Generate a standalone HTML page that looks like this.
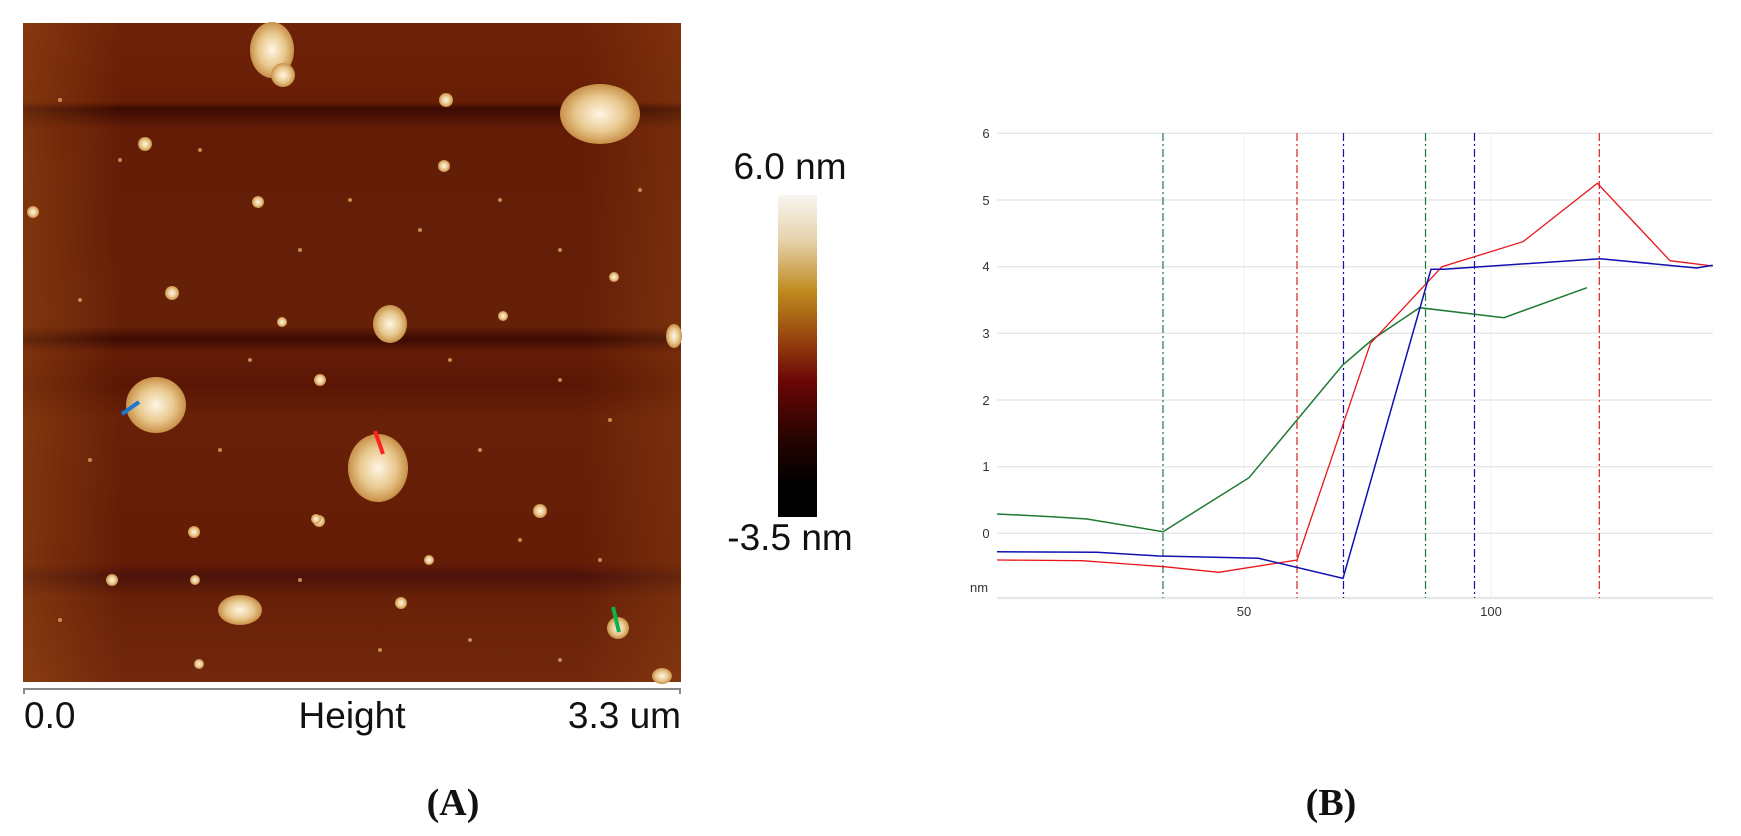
<!DOCTYPE html>
<html><head><meta charset="utf-8"><style>
html,body{margin:0;padding:0;background:#fff;}
svg{display:block;}
</style></head><body>
<svg width="1741" height="836" viewBox="0 0 1741 836" xmlns="http://www.w3.org/2000/svg" font-family="Liberation Sans, Arial, sans-serif">
<defs>
<linearGradient id="cb" x1="0" y1="0" x2="0" y2="1">
<stop offset="0" stop-color="#f8f6f0"/>
<stop offset="0.14" stop-color="#e6d2ac"/>
<stop offset="0.30" stop-color="#bf8a1e"/>
<stop offset="0.45" stop-color="#96420e"/>
<stop offset="0.58" stop-color="#6a0606"/>
<stop offset="0.76" stop-color="#250400"/>
<stop offset="0.9" stop-color="#000"/>
<stop offset="1" stop-color="#000"/>
</linearGradient>
<linearGradient id="bgv" x1="0" y1="0" x2="0" y2="1">
<stop offset="0" stop-color="#6e2208"/>
<stop offset="0.12" stop-color="#681e06"/>
<stop offset="0.13" stop-color="#3a0a02"/>
<stop offset="0.16" stop-color="#641c06"/>
<stop offset="0.46" stop-color="#662008"/>
<stop offset="0.48" stop-color="#3c0a02"/>
<stop offset="0.50" stop-color="#641c06"/>
<stop offset="0.55" stop-color="#5a1604"/>
<stop offset="0.60" stop-color="#682008"/>
<stop offset="0.82" stop-color="#641c06"/>
<stop offset="0.84" stop-color="#4c120a"/>
<stop offset="0.87" stop-color="#682008"/>
<stop offset="1" stop-color="#72280c"/>
</linearGradient>
<linearGradient id="lft" x1="0" y1="0" x2="1" y2="0">
<stop offset="0" stop-color="#b0601a" stop-opacity="0.35"/>
<stop offset="0.15" stop-color="#b0601a" stop-opacity="0"/>
<stop offset="0.85" stop-color="#b0601a" stop-opacity="0"/>
<stop offset="1" stop-color="#b0601a" stop-opacity="0.25"/>
</linearGradient>
<radialGradient id="blob"><stop offset="0" stop-color="#fff6e6"/><stop offset="0.6" stop-color="#e8c88e"/><stop offset="1" stop-color="#c89048"/></radialGradient>
</defs>

<!-- Panel A -->
<rect x="23" y="23" width="658" height="659" fill="url(#bgv)"/>
<rect x="23" y="23" width="658" height="659" fill="url(#lft)"/>
<g fill="url(#blob)">
<ellipse cx="272" cy="50" rx="22" ry="28"/>
<ellipse cx="283" cy="75" rx="12" ry="12"/>
<ellipse cx="600" cy="114" rx="40" ry="30"/>
<ellipse cx="390" cy="324" rx="17" ry="19"/>
<ellipse cx="156" cy="405" rx="30" ry="28"/>
<ellipse cx="378" cy="468" rx="30" ry="34"/>
<ellipse cx="240" cy="610" rx="22" ry="15"/>
<ellipse cx="618" cy="628" rx="11" ry="11"/>
<ellipse cx="674" cy="336" rx="8" ry="12"/>
<ellipse cx="662" cy="676" rx="10" ry="8"/>
<circle cx="145" cy="144" r="7"/>
<circle cx="258" cy="202" r="6"/>
<circle cx="172" cy="293" r="7"/>
<circle cx="33" cy="212" r="6"/>
<circle cx="446" cy="100" r="7"/>
<circle cx="444" cy="166" r="6"/>
<circle cx="282" cy="322" r="5"/>
<circle cx="320" cy="380" r="6"/>
<circle cx="319" cy="521" r="6"/>
<circle cx="194" cy="532" r="6"/>
<circle cx="540" cy="511" r="7"/>
<circle cx="429" cy="560" r="5"/>
<circle cx="195" cy="580" r="5"/>
<circle cx="112" cy="580" r="6"/>
<circle cx="401" cy="603" r="6"/>
<circle cx="316" cy="519" r="5"/>
<circle cx="614" cy="277" r="5"/>
<circle cx="199" cy="664" r="5"/>
<circle cx="503" cy="316" r="5"/>
</g>
<g fill="#d8a860" opacity="0.8">
<circle cx="60" cy="100" r="2"/><circle cx="120" cy="160" r="2"/><circle cx="200" cy="150" r="2"/><circle cx="300" cy="250" r="2"/><circle cx="350" cy="200" r="2"/><circle cx="420" cy="230" r="2"/><circle cx="500" cy="200" r="2"/><circle cx="560" cy="250" r="2"/><circle cx="640" cy="190" r="2"/><circle cx="80" cy="300" r="2"/><circle cx="250" cy="360" r="2"/><circle cx="450" cy="360" r="2"/><circle cx="560" cy="380" r="2"/><circle cx="610" cy="420" r="2"/><circle cx="90" cy="460" r="2"/><circle cx="220" cy="450" r="2"/><circle cx="480" cy="450" r="2"/><circle cx="520" cy="540" r="2"/><circle cx="600" cy="560" r="2"/><circle cx="300" cy="580" r="2"/><circle cx="60" cy="620" r="2"/><circle cx="380" cy="650" r="2"/><circle cx="470" cy="640" r="2"/><circle cx="560" cy="660" r="2"/>
</g>
<line x1="122" y1="414" x2="139" y2="402" stroke="#1a78d0" stroke-width="4"/>
<line x1="375" y1="431" x2="383" y2="454" stroke="#ff2020" stroke-width="4"/>
<line x1="613" y1="607" x2="619" y2="632" stroke="#10b050" stroke-width="4"/>

<path d="M24 694 V689 H680 V694" fill="none" stroke="#888" stroke-width="2"/>
<g font-size="37" fill="#111">
<text x="24" y="728">0.0</text>
<text x="352" y="728" text-anchor="middle">Height</text>
<text x="681" y="728" text-anchor="end">3.3 um</text>
<text x="790" y="179" text-anchor="middle">6.0 nm</text>
<text x="790" y="550" text-anchor="middle">-3.5 nm</text>
</g>
<rect x="778" y="195" width="39" height="322" fill="url(#cb)"/>

<text x="453" y="815" text-anchor="middle" font-family="Liberation Serif, serif" font-weight="bold" font-size="38" fill="#111">(A)</text>
<text x="1331" y="815" text-anchor="middle" font-family="Liberation Serif, serif" font-weight="bold" font-size="38" fill="#111">(B)</text>

<!-- Panel B -->
<g stroke="#e8e8e8" stroke-width="1.5">
<line x1="997" y1="133.3" x2="1713" y2="133.3"/>
<line x1="997" y1="200" x2="1713" y2="200"/>
<line x1="997" y1="266.7" x2="1713" y2="266.7"/>
<line x1="997" y1="333.3" x2="1713" y2="333.3"/>
<line x1="997" y1="400" x2="1713" y2="400"/>
<line x1="997" y1="466.7" x2="1713" y2="466.7"/>
<line x1="997" y1="533.3" x2="1713" y2="533.3"/>
<line x1="997" y1="598" x2="1713" y2="598" stroke-width="2.5"/>
</g>
<g stroke="#efefef" stroke-width="1">
<line x1="1244" y1="133" x2="1244" y2="598"/>
<line x1="1491" y1="133" x2="1491" y2="598"/>
</g>
<g stroke-width="1.2" stroke-dasharray="8,3,2,3" fill="none">
<line x1="1163" y1="133" x2="1163" y2="598" stroke="#1e7a32"/>
<line x1="1297" y1="133" x2="1297" y2="598" stroke="#e02020"/>
<line x1="1343.5" y1="133" x2="1343.5" y2="598" stroke="#1010b0"/>
<line x1="1425.5" y1="133" x2="1425.5" y2="598" stroke="#1e7a32"/>
<line x1="1474.5" y1="133" x2="1474.5" y2="598" stroke="#1010b0"/>
<line x1="1599.3" y1="133" x2="1599.3" y2="598" stroke="#e02020"/>
</g>
<polyline fill="none" stroke="#1e7a32" stroke-width="1.5" points="997,514 1052,516.7 1087,519 1163,531.7 1249,477.7 1342.7,365 1373,339 1419.5,307.7 1504,317.7 1587,287.7"/>
<polyline fill="none" stroke="#e8161b" stroke-width="1.3" points="997,560 1082,560.7 1164,566.7 1218.7,572.3 1297,560 1370.5,343.3 1442,266.7 1523,241.7 1597.4,183.3 1670,260.7 1712.7,266"/>
<polyline fill="none" stroke="#1010b0" stroke-width="1.5" points="997,551.7 1097,552.3 1159,556 1258.5,558.3 1343,578.3 1431,269.3 1444,269.3 1600.4,258.7 1696.6,268 1712.7,265.3"/>
<g font-size="13" fill="#333" text-anchor="middle">
<text x="986" y="138">6</text>
<text x="986" y="205">5</text>
<text x="986" y="271">4</text>
<text x="986" y="338">3</text>
<text x="986" y="405">2</text>
<text x="986" y="471">1</text>
<text x="986" y="538">0</text>
<text x="979" y="592">nm</text>
<text x="1244" y="616">50</text>
<text x="1491" y="616">100</text>
</g>
</svg>
</body></html>
